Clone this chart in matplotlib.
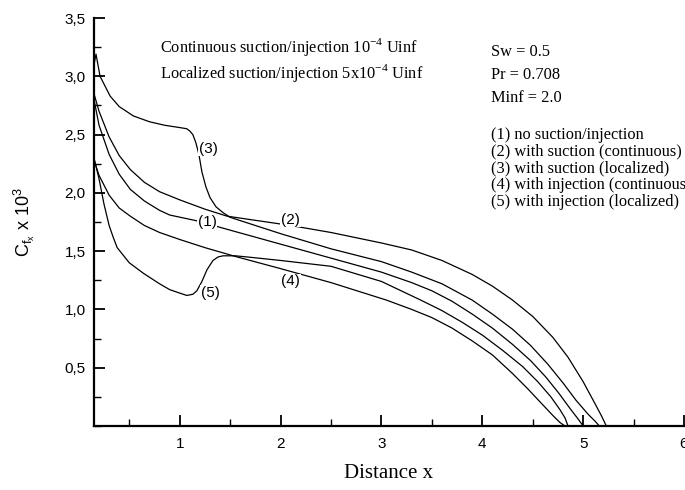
import numpy as np
import matplotlib.pyplot as plt
from matplotlib.ticker import MultipleLocator

# curve data (distance x, Cf x 10^3)
x1 = [0.15, 0.2, 0.3, 0.4, 0.51, 0.65, 0.8, 0.9, 1.17, 1.5, 2.0, 2.5, 3.0, 3.3, 3.5, 3.7, 3.9, 4.1, 4.3, 4.48, 4.63, 4.76, 4.87, 4.95, 5.0]
y1 = [2.80, 2.58, 2.33, 2.16, 2.03, 1.93, 1.85, 1.81, 1.76, 1.68, 1.56, 1.44, 1.32, 1.23, 1.16, 1.07, 0.96, 0.84, 0.70, 0.56, 0.42, 0.28, 0.15, 0.06, 0.0]

x2 = [0.15, 0.2, 0.3, 0.4, 0.51, 0.65, 0.8, 1.0, 1.25, 1.47, 2.1, 2.5, 3.0, 3.3, 3.6, 3.9, 4.1, 4.3, 4.5, 4.7, 4.85, 5.0, 5.1, 5.18, 5.23]
y2 = [2.85, 2.70, 2.48, 2.32, 2.20, 2.09, 2.01, 1.94, 1.86, 1.80, 1.72, 1.66, 1.57, 1.51, 1.42, 1.30, 1.20, 1.08, 0.94, 0.76, 0.59, 0.38, 0.22, 0.09, 0.0]

x3 = [0.15, 0.17, 0.21, 0.31, 0.4, 0.54, 0.7, 0.85, 1.0, 1.07, 1.1, 1.13, 1.16, 1.19, 1.22, 1.26, 1.3, 1.36, 1.43, 1.5, 2.0, 2.5, 3.0, 3.3, 3.6, 3.9, 4.1, 4.3, 4.48, 4.65, 4.8, 4.93, 5.05, 5.12, 5.16]
y3 = [3.10, 3.19, 3.00, 2.83, 2.74, 2.66, 2.61, 2.58, 2.56, 2.55, 2.53, 2.50, 2.43, 2.33, 2.18, 2.05, 1.96, 1.88, 1.83, 1.79, 1.65, 1.52, 1.41, 1.32, 1.22, 1.08, 0.96, 0.83, 0.69, 0.53, 0.37, 0.22, 0.10, 0.04, 0.0]

x4 = [0.15, 0.2, 0.3, 0.4, 0.51, 0.65, 0.8, 1.0, 1.25, 1.57, 2.0, 2.5, 3.05, 3.3, 3.5, 3.7, 3.9, 4.1, 4.3, 4.45, 4.58, 4.7, 4.77, 4.82]
y4 = [2.28, 2.15, 1.98, 1.87, 1.80, 1.72, 1.66, 1.60, 1.53, 1.45, 1.35, 1.23, 1.08, 1.00, 0.93, 0.84, 0.73, 0.61, 0.45, 0.32, 0.20, 0.09, 0.03, 0.0]

x5 = [0.15, 0.2, 0.25, 0.3, 0.34, 0.38, 0.5, 0.64, 0.8, 0.9, 1.0, 1.07, 1.13, 1.17, 1.22, 1.27, 1.33, 1.38, 1.43, 1.55, 1.67, 2.0, 2.5, 3.0, 3.39, 3.6, 3.8, 4.0, 4.2, 4.4, 4.55, 4.68, 4.77, 4.82, 4.85]
y5 = [2.30, 2.12, 1.90, 1.72, 1.62, 1.53, 1.40, 1.31, 1.22, 1.17, 1.14, 1.12, 1.13, 1.16, 1.24, 1.34, 1.42, 1.45, 1.46, 1.46, 1.45, 1.42, 1.37, 1.24, 1.08, 0.99, 0.89, 0.78, 0.65, 0.51, 0.38, 0.25, 0.14, 0.07, 0.0]

curve_labels = ["(1)", "(2)", "(3)", "(4)", "(5)"]
label_x = [1.27, 2.10, 1.28, 2.10, 1.30]
label_y = [1.75, 1.77, 2.38, 1.24, 1.14]

yticks = [0.5, 1.0, 1.5, 2.0, 2.5, 3.0, 3.5]
ytick_labels = ["0,5", "1,0", "1,5", "2,0", "2,5", "3,0", "3,5"]
xticks = [1, 2, 3, 4, 5, 6]

legend_lines = ["(1) no suction/injection",
                "(2) with suction (continuous)",
                "(3) with suction (localized)",
                "(4) with injection (continuous)",
                "(5) with injection (localized)"]

serif = "Liberation Serif"
sans = "Liberation Sans"

fig = plt.figure(figsize=(6.85, 4.9), dpi=100)
ax = fig.add_axes([94/685, 64/490, 590/685, 408/490])

for xs, ys in [(x1, y1), (x2, y2), (x3, y3), (x4, y4), (x5, y5)]:
    ax.plot(xs, ys, color="black", linewidth=0.9)

for lab, lx, ly in zip(curve_labels, label_x, label_y):
    ax.text(lx, ly, lab, fontsize=11, family=sans, ha="center", va="center",
            bbox=dict(facecolor="white", edgecolor="none", pad=0.5))

ax.set_xlim(0.15, 6.0)
ax.set_ylim(0, 3.5)
ax.spines["top"].set_visible(False)
ax.spines["right"].set_visible(False)
for s in ["left", "bottom"]:
    ax.spines[s].set_linewidth(1.6)

ax.set_xticks(xticks)
ax.set_xticklabels([str(t) for t in xticks], family=sans, fontsize=11)
ax.set_yticks(yticks)
ax.set_yticklabels(ytick_labels, family=sans, fontsize=11)
ax.xaxis.set_minor_locator(MultipleLocator(0.5))
ax.yaxis.set_minor_locator(MultipleLocator(0.25))
ax.tick_params(which="major", direction="in", length=8, width=1.3)
ax.tick_params(which="minor", direction="in", length=5, width=1.0)
ax.tick_params(axis="x", pad=8)
ax.tick_params(axis="y", pad=6)

ax.set_xlabel("Distance x", family=serif, fontsize=15, labelpad=9)
ax.set_ylabel(r"$\mathregular{C_{f_x}}$ x 10$^{\mathregular{3}}$", family=sans, fontsize=13, labelpad=20)

# annotations placed in figure pixels (from top-left)
def note(px, py, s, size=11.8):
    fig.text(px/685, 1 - py/490, s, family=serif, fontsize=size, va="center")

note(160, 47, r"Continuous suction/injection 10$^{\mathregular{-4}}$ Uinf")
note(160, 73, r"Localized suction/injection 5x10$^{\mathregular{-4}}$ Uinf")
note(491, 52, "Sw = 0.5")
note(491, 75, "Pr = 0.708")
note(491, 98, "Minf = 2.0")
for i, line in enumerate(legend_lines):
    note(491, 135 + 16.7*i, line)

fig.savefig("out.png", dpi=100)
